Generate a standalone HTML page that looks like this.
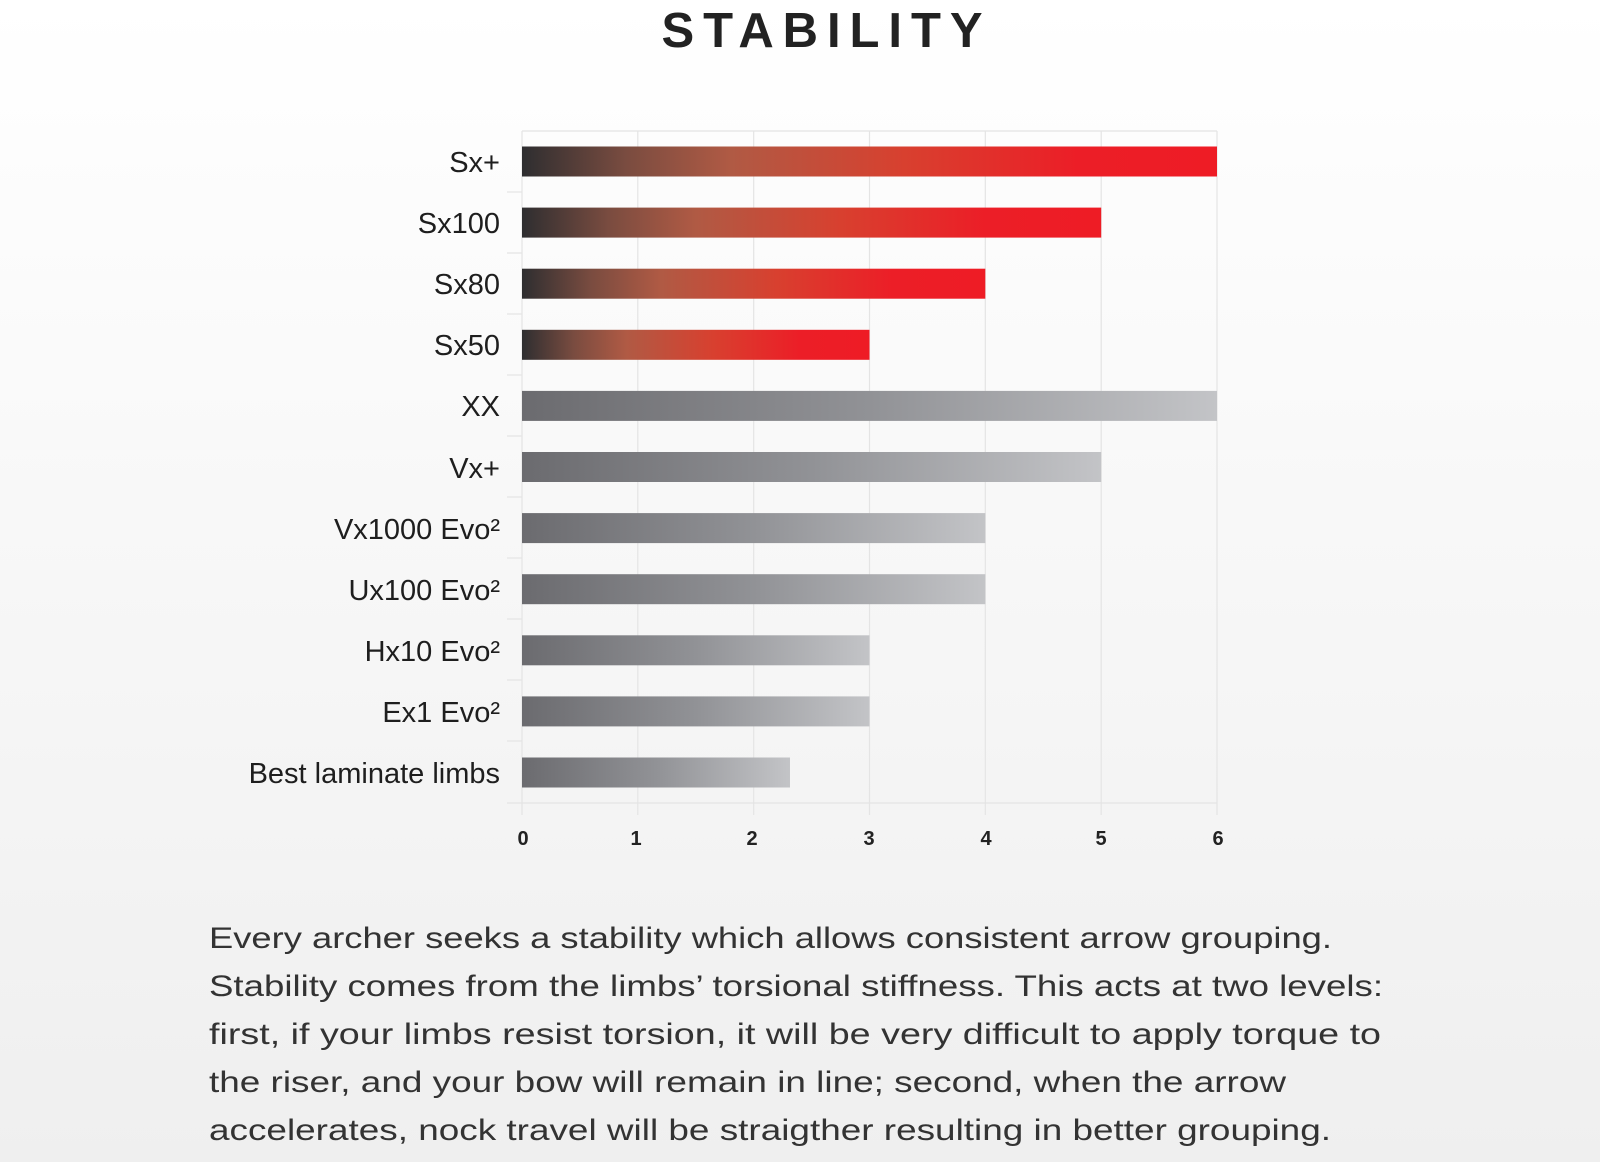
<!DOCTYPE html>
<html><head><meta charset="utf-8"><style>
html,body{margin:0;padding:0;}
body{width:1600px;height:1162px;overflow:hidden;background:linear-gradient(#ffffff,#efefef);}
svg{display:block;}
</style></head><body>
<svg width="1600" height="1162" viewBox="0 0 1600 1162" xmlns="http://www.w3.org/2000/svg">
<defs>
<linearGradient id="red" x1="0" x2="1" y1="0" y2="0">
<stop offset="0" stop-color="#2e2e30"/>
<stop offset="0.15" stop-color="#7a4c40"/>
<stop offset="0.3" stop-color="#b05a44"/>
<stop offset="0.55" stop-color="#d8402f"/>
<stop offset="0.8" stop-color="#ec1e27"/>
<stop offset="1" stop-color="#ee1c25"/>
</linearGradient>
<linearGradient id="gray" x1="0" x2="1" y1="0" y2="0">
<stop offset="0" stop-color="#6b6b6f"/>
<stop offset="0.5" stop-color="#919296"/>
<stop offset="1" stop-color="#c3c4c7"/>
</linearGradient>
</defs>
<text x="822" y="47" text-anchor="middle" font-family="Liberation Sans, sans-serif" font-weight="bold" font-size="49" fill="#222" textLength="321" lengthAdjust="spacing">STABILITY</text>
<g stroke="#e4e4e4" stroke-width="1.2">
<line x1="637.8" y1="131" x2="637.8" y2="815"/>
<line x1="753.7" y1="131" x2="753.7" y2="815"/>
<line x1="869.5" y1="131" x2="869.5" y2="815"/>
<line x1="985.3" y1="131" x2="985.3" y2="815"/>
<line x1="1101.2" y1="131" x2="1101.2" y2="815"/>
<line x1="1217" y1="131" x2="1217" y2="815"/>
<line x1="522" y1="131" x2="1217" y2="131"/>
<line x1="507" y1="803" x2="1217" y2="803"/>
<line x1="522" y1="131" x2="522" y2="815"/>
</g>
<g stroke="#e4e4e4" stroke-width="1.2">
<line x1="507" y1="192" x2="522" y2="192"/><line x1="507" y1="253" x2="522" y2="253"/><line x1="507" y1="314" x2="522" y2="314"/><line x1="507" y1="375" x2="522" y2="375"/><line x1="507" y1="436" x2="522" y2="436"/><line x1="507" y1="497" x2="522" y2="497"/><line x1="507" y1="558" x2="522" y2="558"/><line x1="507" y1="619" x2="522" y2="619"/><line x1="507" y1="680" x2="522" y2="680"/><line x1="507" y1="741" x2="522" y2="741"/>
</g>
<g>
<rect x="522" y="146.5" width="695" height="30" fill="url(#red)"/>
<rect x="522" y="207.6" width="579.2" height="30" fill="url(#red)"/>
<rect x="522" y="268.7" width="463.3" height="30" fill="url(#red)"/>
<rect x="522" y="329.8" width="347.5" height="30" fill="url(#red)"/>
<rect x="522" y="390.9" width="695" height="30" fill="url(#gray)"/>
<rect x="522" y="452" width="579.2" height="30" fill="url(#gray)"/>
<rect x="522" y="513.1" width="463.3" height="30" fill="url(#gray)"/>
<rect x="522" y="574.2" width="463.3" height="30" fill="url(#gray)"/>
<rect x="522" y="635.3" width="347.5" height="30" fill="url(#gray)"/>
<rect x="522" y="696.4" width="347.5" height="30" fill="url(#gray)"/>
<rect x="522" y="757.5" width="268" height="30" fill="url(#gray)"/>
</g>
<g font-family="Liberation Sans, sans-serif" font-size="29" fill="#1e1e1e" text-anchor="end">
<text x="500" y="172">Sx+</text>
<text x="500" y="233">Sx100</text>
<text x="500" y="294">Sx80</text>
<text x="500" y="355">Sx50</text>
<text x="500" y="416">XX</text>
<text x="500" y="478">Vx+</text>
<text x="500" y="539">Vx1000 Evo²</text>
<text x="500" y="600">Ux100 Evo²</text>
<text x="500" y="661">Hx10 Evo²</text>
<text x="500" y="722">Ex1 Evo²</text>
<text x="500" y="783">Best laminate limbs</text>
</g>
<g font-family="Liberation Sans, sans-serif" font-size="20" font-weight="bold" fill="#222" text-anchor="middle">
<text x="523" y="845">0</text><text x="636" y="845">1</text><text x="752" y="845">2</text><text x="869" y="845">3</text><text x="986" y="845">4</text><text x="1101" y="845">5</text><text x="1218" y="845">6</text>
</g>
<g font-family="Liberation Sans, sans-serif" font-size="30" fill="#333">
<text x="209" y="948" textLength="1123" lengthAdjust="spacingAndGlyphs">Every archer seeks a stability which allows consistent arrow grouping.</text>
<text x="209" y="996" textLength="1174" lengthAdjust="spacingAndGlyphs">Stability comes from the limbs’ torsional stiffness. This acts at two levels:</text>
<text x="209" y="1044" textLength="1172" lengthAdjust="spacingAndGlyphs">first, if your limbs resist torsion, it will be very difficult to apply torque to</text>
<text x="209" y="1092" textLength="1077" lengthAdjust="spacingAndGlyphs">the riser, and your bow will remain in line; second, when the arrow</text>
<text x="209" y="1140" textLength="1122" lengthAdjust="spacingAndGlyphs">accelerates, nock travel will be straigther resulting in better grouping.</text>
</g>
</svg>
</body></html>
